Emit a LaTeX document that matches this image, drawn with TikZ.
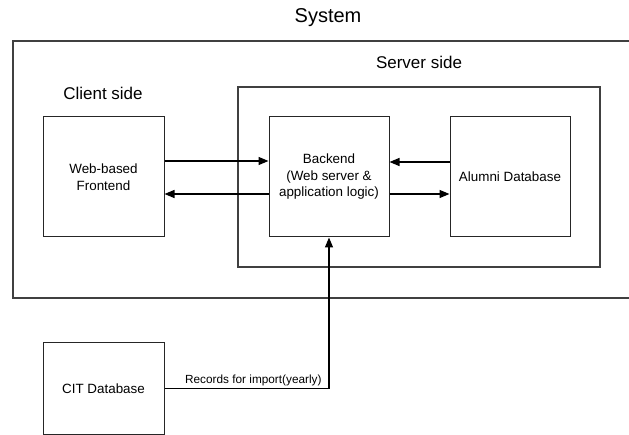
\documentclass[tikz,border=0pt]{standalone}
\usepackage{fontspec}
\setmainfont{Liberation Sans}
\usetikzlibrary{arrows.meta}
\begin{document}
\begin{tikzpicture}[x=1pt,y=1pt,
  box/.style={draw=black!85,line width=1pt,minimum width=121pt,minimum height=120pt,inner sep=0pt,align=center,font=\fontsize{13.4}{16.5}\selectfont},
  frame/.style={draw=black!75,line width=1.1pt},
  arr/.style={draw=black,line width=1.3pt,-{Triangle[length=10pt,width=8pt]}},
  heading/.style={font=\fontsize{17}{20}\selectfont,inner sep=0pt}]
\useasboundingbox (0,0) rectangle (629,-435);
% outer system frame (runs off the right edge)
\draw[frame,line width=1.4pt] (629,-41) -- (13,-41) -- (13,-298) -- (629,-298);
\node[font=\fontsize{20}{24}\selectfont,inner sep=0pt] (systitle) at (328,-18) {System};
\node[heading] (servertitle) at (419,-62) {Server side};
\node[heading] (clienttitle) at (103,-93) {Client side};
\node[frame,minimum width=362pt,minimum height=180pt,inner sep=0pt] (server) at (419,-177) {};
\node[box] (frontend) at (103.5,-177) {Web-based\\Frontend};
\node[box,minimum width=120pt] (backend) at (329,-177) {Backend\\(Web server \&\\application logic)};
\node[box,minimum width=120pt] (alumni) at (510,-177) {Alumni Database};
\node[box,minimum height=91pt] (cit) at (103.5,-388.5) {CIT Database};
\draw[arr] ([yshift=16pt]frontend.east) -- ([yshift=16pt]backend.west);
\draw[arr] ([yshift=-17pt]backend.west) -- ([yshift=-17pt]frontend.east);
\draw[arr] ([yshift=15pt]alumni.west) -- ([yshift=15pt]backend.east);
\draw[arr] ([yshift=-17pt]backend.east) -- ([yshift=-17pt]alumni.west);
\draw[arr] (cit.east) -| node[pos=0.27,above=1pt,inner sep=1pt,font=\fontsize{11.8}{14}\selectfont] (reclabel) {Records for import(yearly)} (backend.south);
\end{tikzpicture}
\end{document}
